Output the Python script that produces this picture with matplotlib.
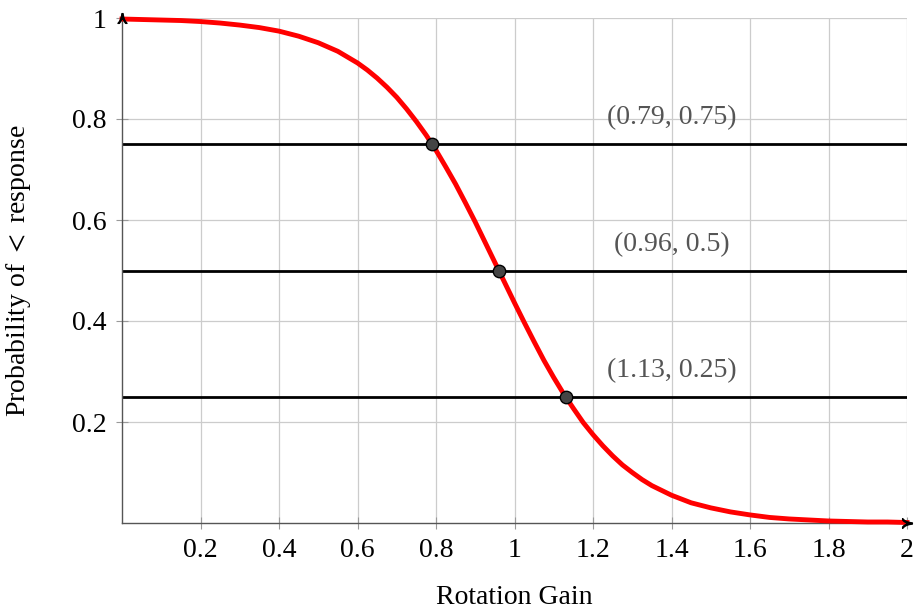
import matplotlib.pyplot as plt
import numpy as np

plt.rcParams['font.family'] = ['Liberation Serif', 'DejaVu Serif']
plt.rcParams['mathtext.fontset'] = 'stix'

# Fitted psychometric curve (finer steps on the steep part)
gain = [0.00, 0.05, 0.10, 0.15, 0.20, 0.25, 0.30, 0.35, 0.40, 0.45,
        0.50, 0.55, 0.60, 0.625, 0.65, 0.675, 0.70, 0.725, 0.75, 0.775,
        0.80, 0.825, 0.85, 0.875, 0.90, 0.925, 0.95, 0.975, 1.00, 1.025,
        1.05, 1.075, 1.10, 1.125, 1.15, 1.175, 1.20, 1.225, 1.25, 1.275,
        1.30, 1.325, 1.35, 1.40, 1.45, 1.50, 1.55, 1.60, 1.65, 1.70,
        1.75, 1.80, 1.85, 1.90, 1.95, 2.00]
prob = [0.998, 0.997, 0.996, 0.995, 0.993, 0.990, 0.986, 0.981, 0.974, 0.964,
        0.951, 0.934, 0.911, 0.897, 0.881, 0.863, 0.843, 0.820, 0.795, 0.768,
        0.738, 0.705, 0.671, 0.634, 0.596, 0.556, 0.516, 0.476, 0.436, 0.397,
        0.359, 0.322, 0.288, 0.256, 0.227, 0.199, 0.175, 0.153, 0.133, 0.115,
        0.100, 0.086, 0.074, 0.055, 0.040, 0.030, 0.022, 0.016, 0.011, 0.008,
        0.006, 0.004, 0.003, 0.002, 0.002, 0.001]

# Thresholds marked on the curve
thr_x = [0.79, 0.96, 1.13]
thr_y = [0.75, 0.5, 0.25]
thr_labels = ['(0.79, 0.75)', '(0.96, 0.5)', '(1.13, 0.25)']

fig = plt.figure(figsize=(9.23, 6.12), dpi=100)
ax = fig.add_axes([122 / 923, 89 / 612, 785 / 923, 505 / 612])

ax.set_xlim(0, 2)
ax.set_ylim(0, 1)
ax.set_xticks([0.2, 0.4, 0.6, 0.8, 1.0, 1.2, 1.4, 1.6, 1.8, 2.0])
ax.set_xticklabels(['0.2', '0.4', '0.6', '0.8', '1', '1.2', '1.4', '1.6', '1.8', '2'])
ax.set_yticks([0.2, 0.4, 0.6, 0.8, 1.0])
ax.set_yticklabels(['0.2', '0.4', '0.6', '0.8', '1'])
ax.grid(True, color='#cccccc', linewidth=0.9)
ax.set_axisbelow(True)
ax.tick_params(direction='inout', length=8, width=0.8, color='#999999',
               labelsize=20, pad=7)

for s in ['top', 'right']:
    ax.spines[s].set_visible(False)
for s in ['left', 'bottom']:
    ax.spines[s].set_color('#555555')
    ax.spines[s].set_linewidth(1.0)

for y in thr_y:
    ax.axhline(y, color='black', linewidth=2, zorder=2)

ax.plot(gain, prob, color='#ff0000', linewidth=3.5, zorder=3, clip_on=False,
        solid_joinstyle='round')

ax.scatter(thr_x, thr_y, s=80, color='#444444', edgecolor='black', linewidth=1, zorder=4)

# arrow tips on the axes
ax.plot(1, 0, marker=r'$\succ$', color='black', markersize=7, transform=ax.transAxes,
        clip_on=False, zorder=5)
ax.plot(0, 1, marker=r'$\curlywedge$', color='black', markersize=7, transform=ax.transAxes,
        clip_on=False, zorder=5)

for y, lab in zip(thr_y, thr_labels):
    ax.text(1.4, y + 0.052, lab, color='#555555', fontsize=20, ha='center', va='center')

ax.set_xlabel('Rotation Gain', fontsize=20, labelpad=16)
ax.set_ylabel('Probability of $<$ response', fontsize=20, labelpad=28)

fig.savefig('out.png', dpi=100)
